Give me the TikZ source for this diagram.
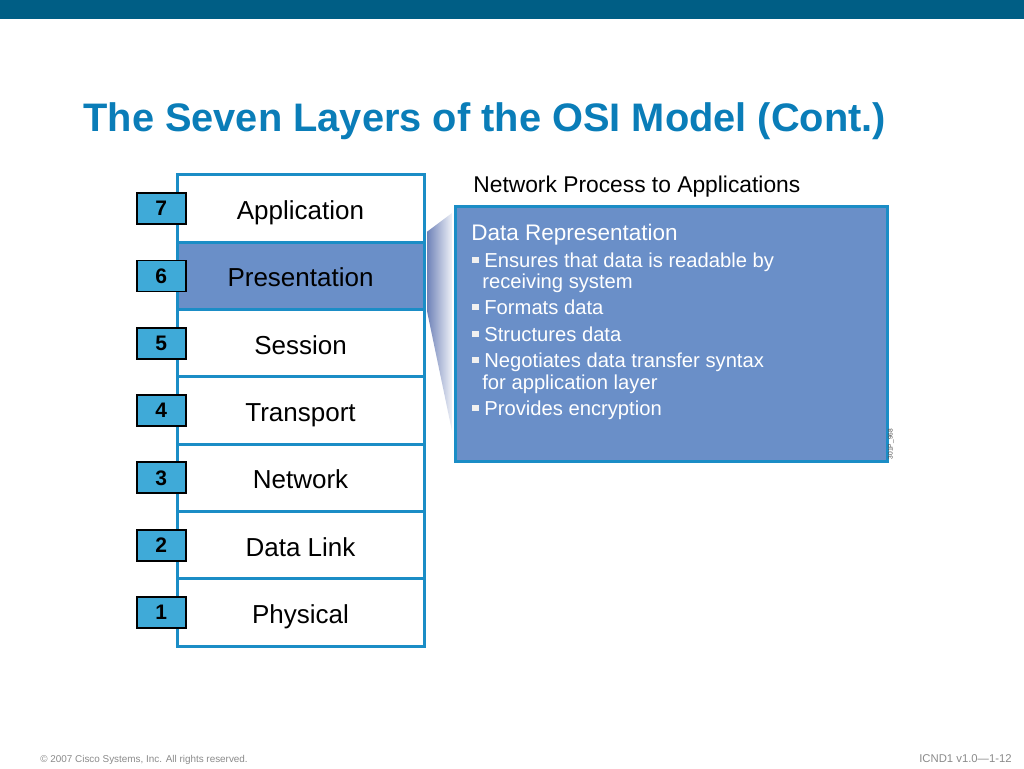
\documentclass[tikz,border=0pt]{standalone}
\usepackage{fontspec}
\setmainfont{Liberation Sans}
\usetikzlibrary{positioning}
\definecolor{bandteal}{HTML}{005E85}
\definecolor{titleblue}{HTML}{0A7DB8}
\definecolor{edgeblue}{HTML}{1B8DC6}
\definecolor{layerfill}{HTML}{6A8FC8}
\definecolor{numfill}{HTML}{3FAAD8}
\definecolor{wedgeblue}{HTML}{6479B3}
\definecolor{footgray}{HTML}{8A8A8A}
\tikzset{every picture/.style={line width=0.75pt}}
\tikzset{
  layerbox/.style ={rectangle, draw=edgeblue, line width=3pt, fill=white,
                    minimum width=247pt, minimum height=67.3pt, inner sep=0pt,
                    text height=22pt, text depth=0pt,
                    font=\fontsize{26}{30}\selectfont},
  numbox/.style   ={rectangle, draw=black, line width=1.8pt, fill=numfill,
                    minimum width=49pt, minimum height=31pt, inner sep=0pt,
                    font=\fontsize{21}{24}\selectfont\bfseries},
  infobox/.style  ={rectangle, draw=edgeblue, line width=3pt, fill=layerfill,
                    minimum width=432pt, minimum height=255pt, inner sep=0pt},
  infohead/.style ={anchor=base west, inner sep=0pt, text=white,
                    font=\fontsize{22.5}{26}\selectfont},
  infoline/.style ={anchor=base west, inner sep=0pt, text=white,
                    font=\fontsize{20.2}{24}\selectfont},
  bulletsq/.style ={rectangle, fill=white!94!black, minimum width=7pt,
                    minimum height=6.5pt, inner sep=0pt},
  foottext/.style ={inner sep=0pt, text=footgray},
}

\begin{document}
\begin{tikzpicture}[x=1pt, y=-1pt]
    \useasboundingbox (0,0) rectangle (1024,768);
    % top band and title
    \fill[bandteal] (0,0) rectangle (1024,19);
    \node[anchor=base west, inner sep=0pt, text=titleblue,
          font=\fontsize{39.8}{44}\selectfont\bfseries] (title) at (83,131)
          {The Seven Layers of the OSI Model (Cont.)};

    % layer stack
    \foreach \name/\label/\num [count=\i from 0] in
        {app/Application/7, pres/Presentation/6, sess/Session/5,
         trans/Transport/4, net/Network/3, dlink/Data Link/2, phys/Physical/1}
      \node[layerbox] (\name) at (300.5, 208.6+67.3*\i) {\label};
    \node[layerbox, fill=layerfill] (pres) at (300.5, 275.9) {Presentation};

    % info box and callout
    \node[infobox] (info) at (671,333.5) {};
    \coordinate (wtop) at (452,213);
    \coordinate (wbot) at (452,431);
    \begin{scope}
      \clip ([yshift=9pt, xshift=1.5pt]pres.north east) -- (wtop) -- (wbot)
        -- ([xshift=1.5pt]pres.south east) -- cycle;
      \foreach \k [evaluate=\k as \shade using {100-3.3*\k}] in {0,...,26}
        \fill[wedgeblue!\shade!white] (425+\k,200) rectangle (426.2+\k,440);
    \end{scope}
    \node[anchor=base west, inner sep=0pt, font=\fontsize{22.8}{26}\selectfont]
        (proc) at (473,192) {Network Process to Applications};

    \node[infohead] (head) at (471,240) {Data Representation};
    \foreach \txt/\yy in {Ensures that data is readable by/267, Formats data/314,
                          Structures data/341, Negotiates data transfer syntax/367,
                          Provides encryption/415}{
      \node[bulletsq] at (475.5,\yy-7) {};
      \node[infoline] at (484,\yy) {\txt};
    }
    \node[infoline] (cont1) at (482,288) {receiving system};
    \node[infoline] (cont2) at (482,389) {for application layer};
    \node[rotate=90, inner sep=0pt, text=black!70, font=\fontsize{6.6}{7}\selectfont]
        (code) at (891,444) {301P\_968};

    % layer numbers
    \foreach \name/\num in {app/7, pres/6, sess/5, trans/4, net/3, dlink/2, phys/1}
      \node[numbox, anchor=east] (n\num) at ([xshift=11pt]\name.west) {\num};

    % footer
    \node[foottext, anchor=base west, font=\fontsize{9.9}{11}\selectfont] (copy)
        at (40,762) {\textcopyright\ 2007 Cisco Systems, Inc. All rights reserved.};
    \node[foottext, anchor=base east, font=\fontsize{11.3}{13}\selectfont] (slide)
        at (1012,762) {ICND1 v1.0---1-12};
\end{tikzpicture}
\end{document}
